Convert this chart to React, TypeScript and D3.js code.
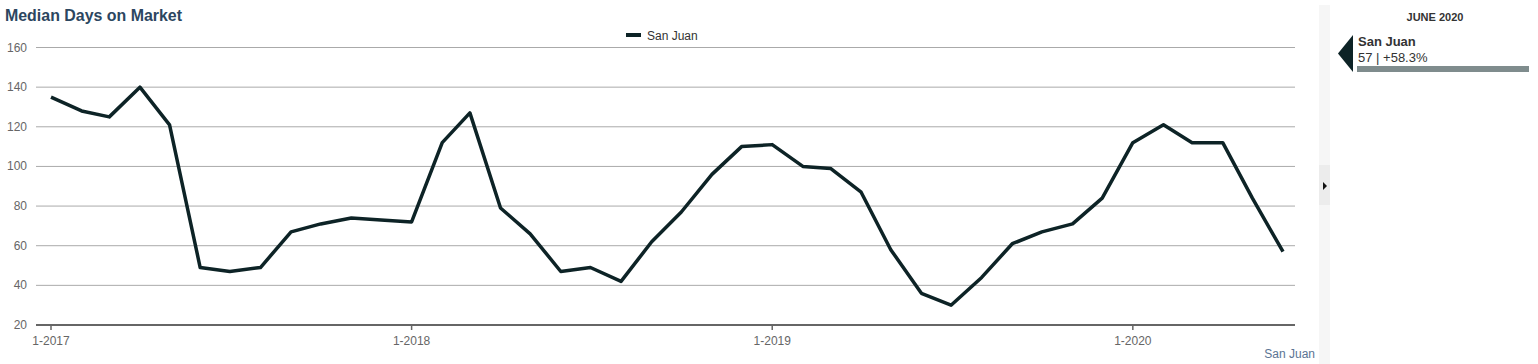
import React from "react";
import * as d3 from "d3";

const months: string[] = [];
for (let y = 2017; y <= 2020; y++) for (let m = 1; m <= 12; m++) if (!(y === 2020 && m > 6)) months.push(`${y}-${String(m).padStart(2, "0")}`);

const values: number[] = [
  135, 128, 125, 140, 121, 49, 47, 49, 67, 71, 74, 73,
  72, 112, 127, 79, 66, 47, 49, 42, 62, 77, 96, 110,
  111, 100, 99, 87, 58, 36, 30, 44, 61, 67, 71, 84,
  112, 121, 112, 112, 84, 57,
];

const yTicks: number[] = [20, 40, 60, 80, 100, 120, 140, 160];
const xTickDates: string[] = ["2017-01", "2018-01", "2019-01", "2020-01"];
const xTickLabels: string[] = ["1-2017", "1-2018", "1-2019", "1-2020"];

const seriesName = "San Juan";
const title = "Median Days on Market";
const panelTitle = "JUNE 2020";
const panelValue = "57 | +58.3%";

const FONT = "Arial, 'Liberation Sans', sans-serif";
const LINE = "#0d2326";

export default function App() {
  const parse = d3.timeParse("%Y-%m");
  const dates = months.map((m) => parse(m) as Date);
  const x = d3.scaleTime().domain([dates[0], dates[dates.length - 1]]).range([51, 1283]);
  const y = d3.scaleLinear().domain([20, 160]).range([325, 47.5]);
  const line = d3
    .line<number>()
    .x((_, i) => x(dates[i]))
    .y((d) => y(d));

  return (
    <svg
      width={1538}
      height={364}
      style={{ position: "absolute", left: 0, top: 0, background: "#fff" }}
      fontFamily={FONT}
    >
      <text x={5} y={21} fontSize={16} fontWeight="bold" fill="#2c4660" textLength={177} lengthAdjust="spacingAndGlyphs">
        {title}
      </text>
      {/* legend */}
      <line x1={626} x2={641} y1={35} y2={35} stroke={LINE} strokeWidth={4} />
      <text x={647} y={39.5} fontSize={12} fill="#333">
        {seriesName}
      </text>
      {/* grid */}
      {yTicks.map((t) => (
        <g key={t}>
          {t !== 20 && (
            <line x1={36} x2={1295} y1={y(t)} y2={y(t)} stroke="#aaa" strokeWidth={1} />
          )}
          <text x={27} y={y(t) + 4} fontSize={12} fill="#666" textAnchor="end">
            {t}
          </text>
        </g>
      ))}
      {/* x axis */}
      <line x1={36} x2={1295} y1={325} y2={325} stroke="#666" strokeWidth={2} />
      {xTickDates.map((d, i) => {
        const xx = x(parse(d) as Date);
        return (
          <g key={d}>
            <line x1={xx} x2={xx} y1={325} y2={330} stroke="#666" strokeWidth={1.5} />
            <text x={xx} y={345} fontSize={12} fill="#666" textAnchor="middle">
              {xTickLabels[i]}
            </text>
          </g>
        );
      })}
      <path d={line(values) || ""} fill="none" stroke={LINE} strokeWidth={3.5} strokeLinejoin="round" />
      <text x={1315} y={358} fontSize={12} fill="#5b7493" textAnchor="end">
        {seriesName}
      </text>
      {/* right panel */}
      <rect x={1319} y={5} width={11} height={359} fill="#f6f6f6" />
      <rect x={1319} y={165} width={11} height={40} fill="#ececec" />
      <path d="M1323,182 L1327,186 L1323,190 Z" fill="#111" />
      <text x={1435} y={21} fontSize={11} fontWeight="bold" fill="#333" textAnchor="middle">
        {panelTitle}
      </text>
      <path d="M1353,35 L1338,53.5 L1353,72 Z" fill={LINE} />
      <text x={1358} y={46} fontSize={13} fontWeight="bold" fill="#333">
        {seriesName}
      </text>
      <text x={1358} y={61.5} fontSize={13} fill="#333">
        {panelValue}
      </text>
      <rect x={1357} y={66} width={172} height={6} fill="#7f8c8d" />
    </svg>
  );
}
